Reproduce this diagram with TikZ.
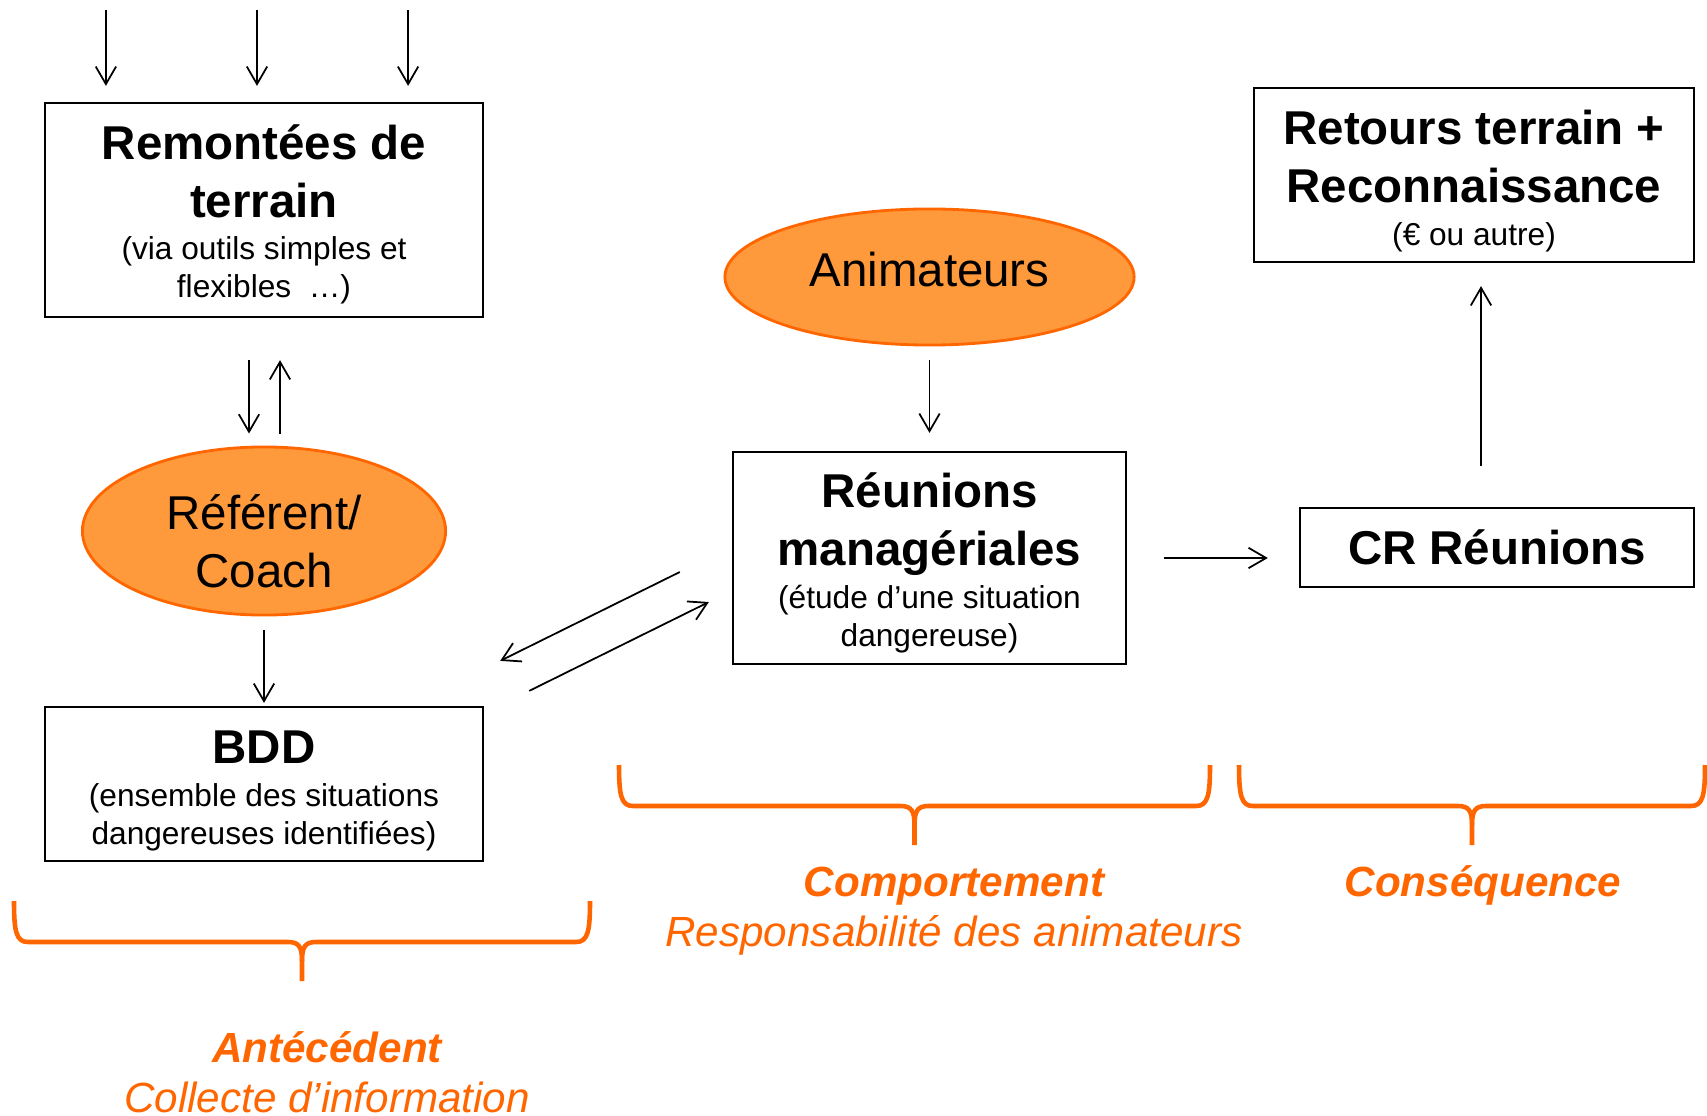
\documentclass[tikz,border=0pt]{standalone}
\usepackage{fontspec}
\setmainfont{Liberation Sans}
\usetikzlibrary{shapes.geometric, arrows.meta, calc}

\definecolor{orangevif}{HTML}{FF6600}
\definecolor{orangeclair}{HTML}{FF9A3C}

\newcommand{\grand}{\fontsize{13.5}{16.5}\selectfont}
\newcommand{\petit}{\fontsize{9}{10.8}\selectfont}
\newcommand{\titre}[1]{{\grand\bfseries #1\par}}
\newcommand{\sous}[1]{\vspace{1.2pt}{\petit #1\par}}

\tikzset{
    boite/.style={draw, line width=0.6pt, inner sep=0pt},
    bulle/.style={ellipse, draw=orangevif, fill=orangeclair, line width=0.8pt, inner sep=0pt, align=center, font=\grand},
    accolade/.style={draw=orangevif, line width=1.3pt, line join=round},
    etiquette/.style={text=orangevif, align=center, font=\fontsize{12}{14.2}\selectfont\itshape}
}

\begin{document}
\begin{tikzpicture}[x=0.01cm, y=-0.01cm, >={Straight Barb[length=5pt,width=5.8pt]}, fleche/.style={->, line width=0.5pt}]
    \useasboundingbox (0,0) rectangle (1707,1116);

    % Collecte (gauche)
    \node[boite, minimum width=4.38cm, minimum height=2.14cm] (remontees) at (264,210)
        {\parbox{4.38cm}{\centering\vspace*{2.5pt}\titre{Remontées de\\terrain}\sous{(via outils simples et\\flexibles~~…)}}};
    \node[bulle, minimum width=3.63cm, minimum height=1.68cm] (referent) at (264,531)
        {\parbox{2.2cm}{\centering Référent/\\Coach\par\vspace{-5.6pt}}};
    \node[boite, minimum width=4.38cm, minimum height=1.54cm] (bdd) at (264,784)
        {\parbox{4.38cm}{\centering\vspace*{4pt}\titre{BDD}\sous{(ensemble des situations\\dangereuses identifiées)}}};

    % Comportement (milieu)
    \node[bulle, text depth=4.5pt, minimum width=4.09cm, minimum height=1.36cm] (animateurs) at (929.5,277) {Animateurs};
    \node[boite, minimum width=3.93cm, minimum height=2.12cm] (reunions) at (929.5,558)
        {\parbox{3.93cm}{\centering\vspace*{2.8pt}\titre{Réunions\\managériales}\sous{(étude d’une situation\\dangereuse)}}};

    % Consequence (droite)
    \node[boite, font=\grand\bfseries, minimum width=3.94cm, minimum height=0.79cm] (cr) at (1497,547.5) {CR Réunions};
    \node[boite, minimum width=4.40cm, minimum height=1.74cm] (retours) at (1474,175)
        {\parbox{4.40cm}{\centering\vspace*{3.4pt}\titre{Retours terrain +\\Reconnaissance}\sous{(€ ou autre)}}};

    % Fleches
    \foreach \dx in {-1.58,-0.07,1.44} {
        \draw[fleche] ([xshift=\dx cm, yshift=0.92cm]remontees.north) -- ([xshift=\dx cm, yshift=0.16cm]remontees.north);
    }
    \draw[fleche] ([xshift=-0.15cm, yshift=-0.42cm]remontees.south) -- ([xshift=-0.15cm, yshift=0.12cm]referent.north);
    \draw[fleche] ([xshift=0.16cm, yshift=0.12cm]referent.north) -- ([xshift=0.16cm, yshift=-0.42cm]remontees.south);
    \draw[fleche] ([yshift=-0.14cm]referent.south) -- ([yshift=0.03cm]bdd.north);
    \draw[fleche] ([xshift=-0.52cm, yshift=-0.14cm]reunions.west) -- ([xshift=0.16cm, yshift=0.45cm]bdd.north east);
    \draw[fleche] ([xshift=0.45cm, yshift=0.15cm]bdd.north east) -- ([xshift=-0.23cm, yshift=-0.44cm]reunions.west);
    \draw[fleche] ([yshift=-0.14cm]animateurs.south) -- ([yshift=0.18cm]reunions.north);
    \draw[fleche] ([xshift=0.37cm]reunions.east) -- ($(reunions.east -| cr.west)+(-31,0)$);
    \draw[fleche] ([xshift=-0.16cm, yshift=0.41cm]cr.north) -- ([xshift=0.07cm, yshift=-0.23cm]retours.south);

    % Accolades
    \foreach \xa/\xb/\yt in {14/590/901, 619/1210/765, 1239/1705/765} {
        \pgfmathsetmacro{\xc}{(\xa+\xb)/2}
        \draw[accolade] (\xa,\yt) .. controls (\xa,\yt+30) and (\xa+2,\yt+41) .. (\xa+14,\yt+41)
            -- (\xc-14,\yt+41) .. controls (\xc-3,\yt+41) and (\xc,\yt+46) .. (\xc,\yt+60) -- (\xc,\yt+80);
        \draw[accolade] (\xb,\yt) .. controls (\xb,\yt+30) and (\xb-2,\yt+41) .. (\xb-14,\yt+41)
            -- (\xc+14,\yt+41) .. controls (\xc+3,\yt+41) and (\xc,\yt+46) .. (\xc,\yt+60);
    }

    % Etiquettes
    \node[etiquette] (antecedent) at (327,1072) {{\bfseries Antécédent}\\Collecte d’information};
    \node[etiquette] (comportement) at (954,911) {{\bfseries Comportement}\\Responsabilité des animateurs};
    \node[etiquette] (consequence) at (1483,885) {\bfseries Conséquence};
\end{tikzpicture}
\end{document}
